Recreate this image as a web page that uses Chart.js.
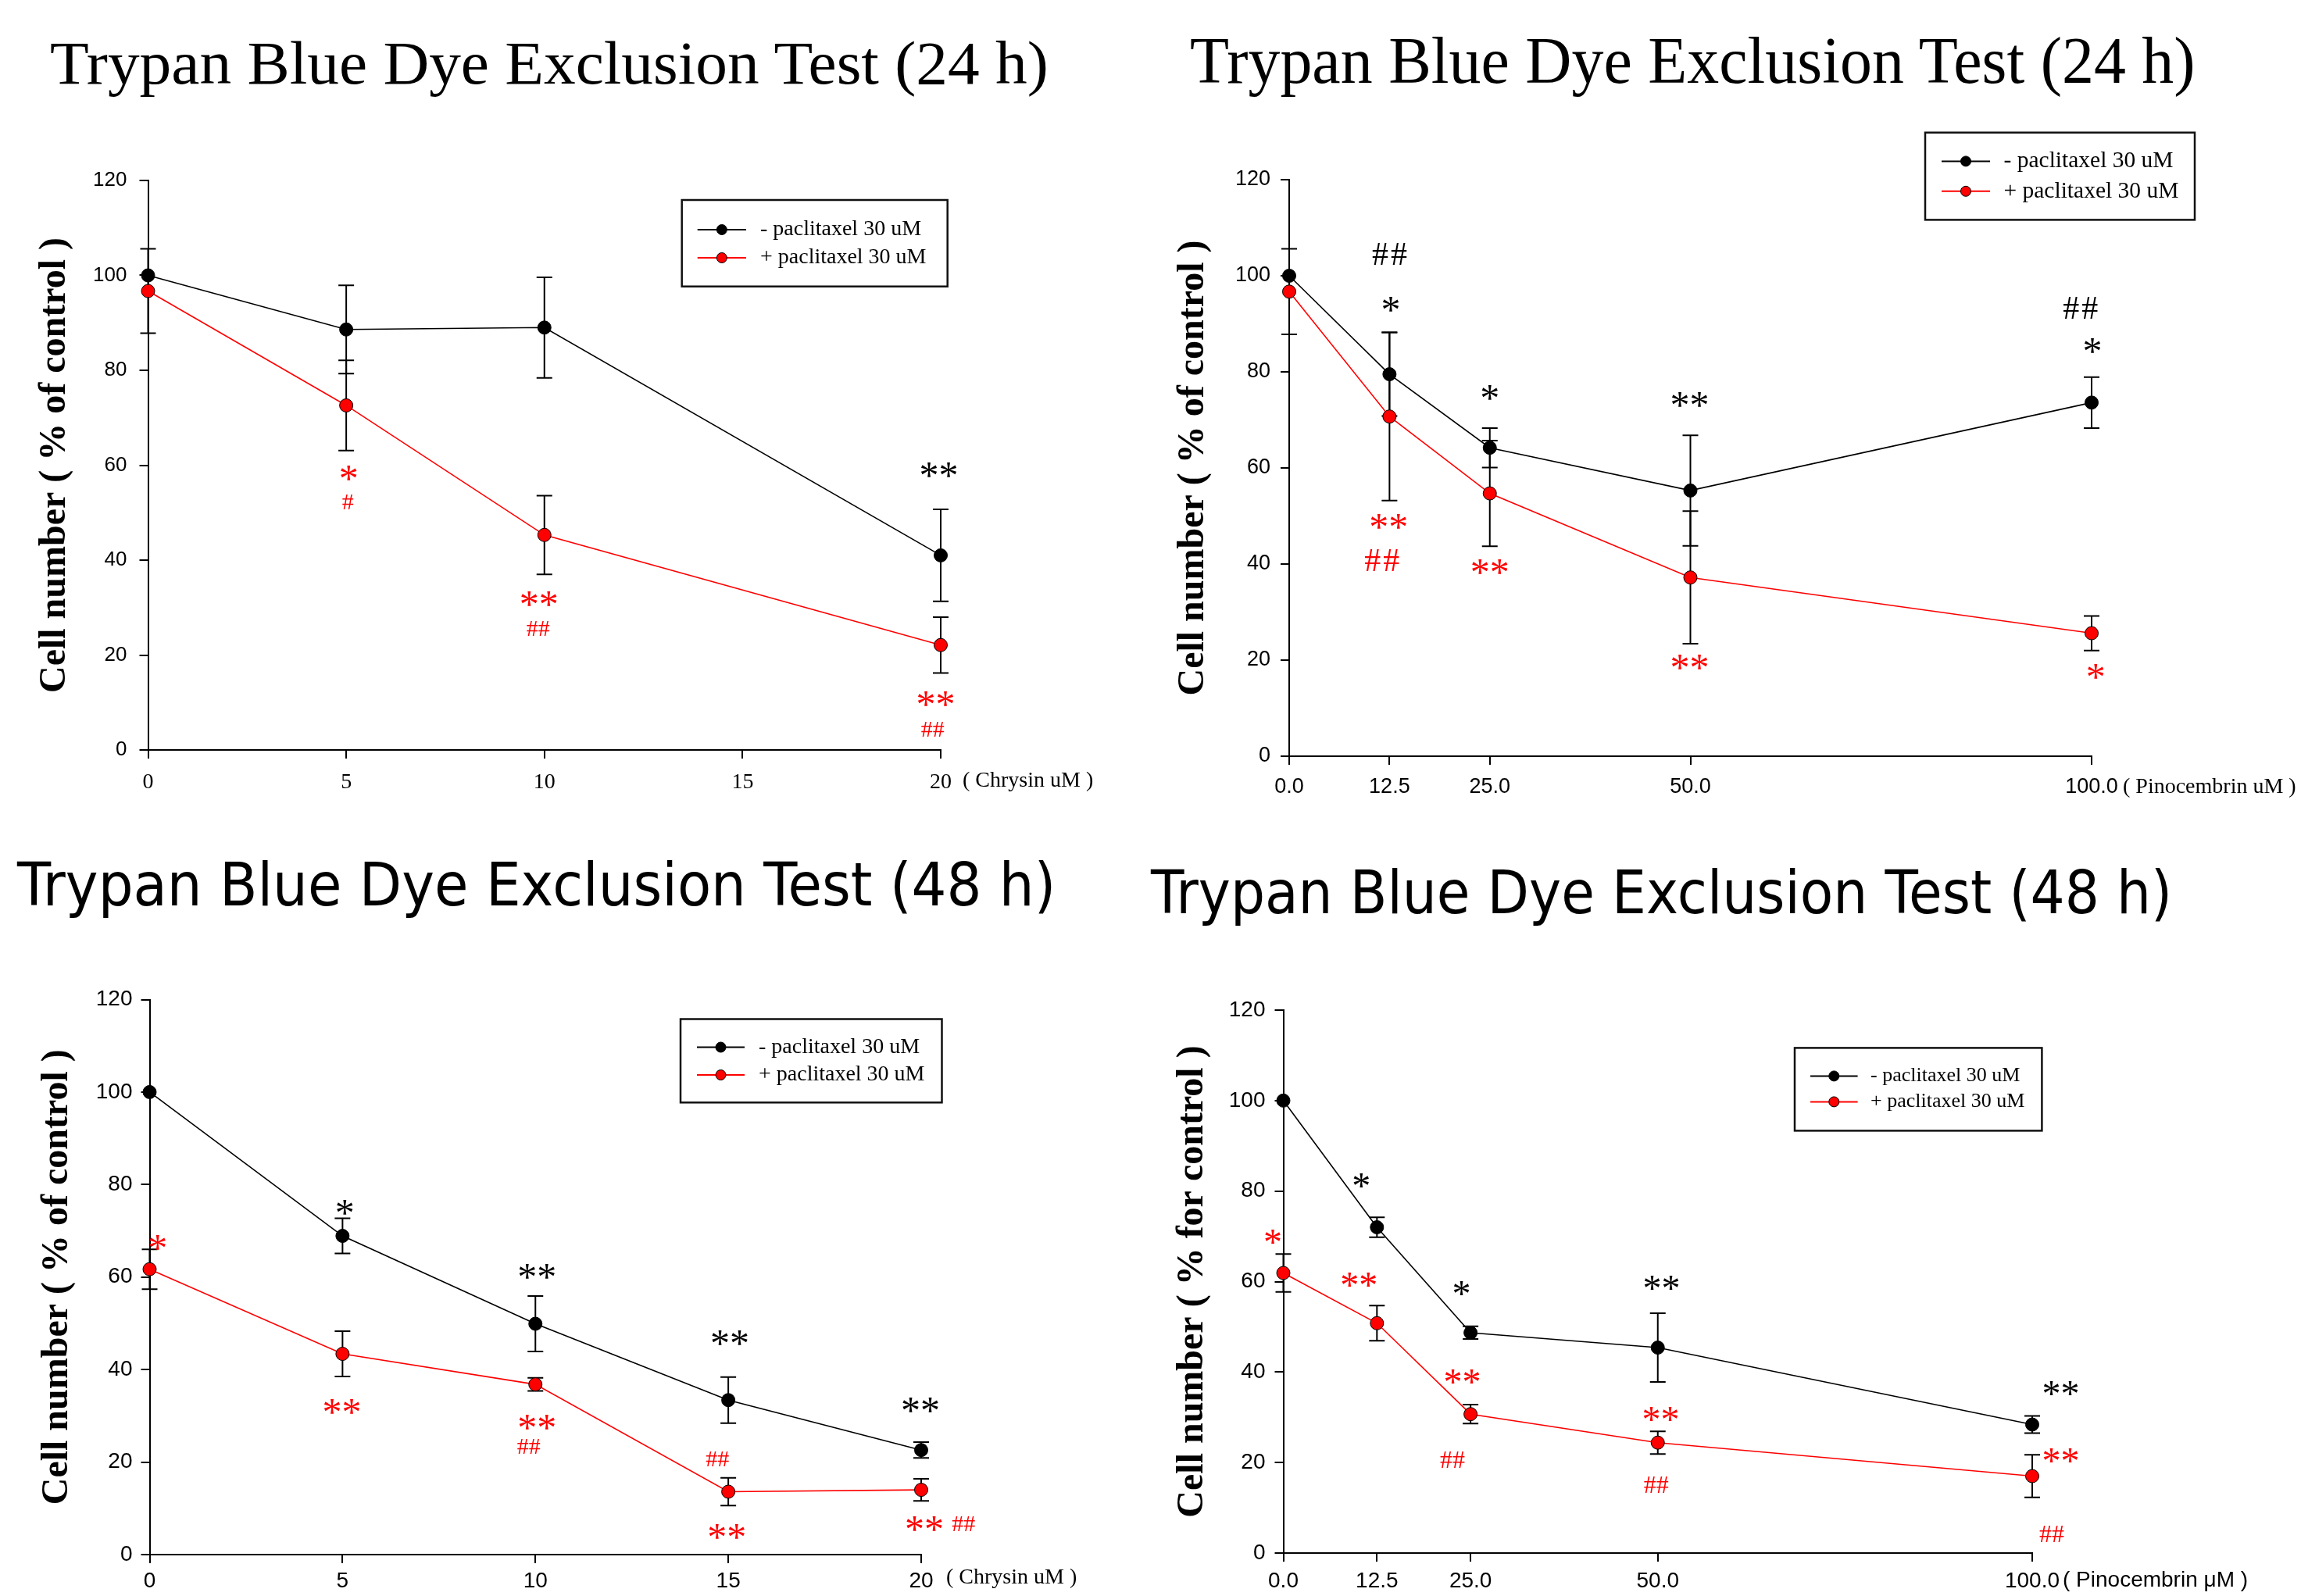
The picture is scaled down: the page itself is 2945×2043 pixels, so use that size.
<!DOCTYPE html>
<html>
<head>
<meta charset="utf-8">
<script src="https://cdn.jsdelivr.net/npm/chart.js@4.4.1/dist/chart.umd.min.js"></script>
<style>
  html, body { margin: 0; padding: 0; background: #fff; }
  body { width: 2945px; height: 2043px; position: relative; overflow: hidden; }
  canvas { position: absolute; }
  .title { position: absolute; white-space: nowrap; color: #000; line-height: 1; transform-origin: 0 0; }
</style>
</head>
<body>
<div class="title" id="t1">Trypan Blue Dye Exclusion Test (24 h)</div>
<div class="title" id="t2">Trypan Blue Dye Exclusion Test (24 h)</div>
<div class="title" id="t3">Trypan Blue Dye Exclusion Test (48 h)</div>
<div class="title" id="t4">Trypan Blue Dye Exclusion Test (48 h)</div>
<canvas id="c1"></canvas>
<canvas id="c2"></canvas>
<canvas id="c3"></canvas>
<canvas id="c4"></canvas>
<script>
// ---- doses / ticks ----
const chrysinDose24 = [0, 5, 10, 20];
const chrysinDose48 = [0, 5, 10, 15, 20];
const chrysinTicks = [0, 5, 10, 15, 20];
const pinoDose = [0, 12.5, 25, 50, 100];
const pinoTicks = [0, 12.5, 25, 50, 100];
const seriesLabels = ['- paclitaxel 30 uM', '+ paclitaxel 30 uM'];

// ---- chrysin 24 h (mean, SD) ----
const chr24Minus = [100, 88.6, 89.0, 41.0];
const chr24MinusSd = [0, 9.3, 10.6, 9.7];
const chr24Plus = [96.7, 72.6, 45.3, 22.1];
const chr24PlusSd = [8.9, 9.5, 8.3, 5.9];

// ---- pinocembrin 24 h ----
const pino24Minus = [100, 79.5, 64.2, 55.3, 73.6];
const pino24MinusSd = [0, 8.7, 4.1, 11.5, 5.3];
const pino24Plus = [96.7, 70.7, 54.7, 37.2, 25.6];
const pino24PlusSd = [8.9, 17.5, 11.0, 13.8, 3.6];

// ---- chrysin 48 h ----
const chr48Minus = [100, 68.9, 49.9, 33.4, 22.6];
const chr48MinusSd = [0, 3.8, 6.0, 5.0, 1.7];
const chr48Plus = [61.7, 43.4, 36.8, 13.6, 14.0];
const chr48PlusSd = [4.3, 4.9, 1.4, 3.0, 2.4];

// ---- pinocembrin 48 h ----
const pino48Minus = [100, 72.0, 48.7, 45.4, 28.4];
const pino48MinusSd = [0, 2.2, 1.4, 7.6, 1.9];
const pino48Plus = [61.9, 50.8, 30.7, 24.4, 17.0];
const pino48PlusSd = [4.2, 3.9, 2.1, 2.5, 4.7];

// ---- significance marks [dose, value, text] ----
const chr24MinusMarks = [[19.95, 59.0, '**']];
const chr24PlusMarks = [
  [5.06, 58.4, '*'], [5.04, 52.2, '#'],
  [9.86, 31.9, '**'], [9.84, 25.6, '##'],
  [19.87, 10.7, '**'], [19.8, 4.3, '##']
];
const pino24MinusMarks = [
  [12.66, 104.5, '##'], [12.66, 94.0, '*'],
  [25.0, 75.7, '*'], [49.9, 74.2, '**'],
  [98.75, 93.3, '##'], [100.1, 85.5, '*']
];
const pino24PlusMarks = [
  [12.4, 48.8, '**'], [11.7, 40.8, '##'],
  [25.0, 39.5, '**'], [49.9, 19.6, '**'], [100.5, 17.6, '*']
];
const chr48MinusMarks = [
  [5.06, 75.1, '*'], [10.04, 61.2, '**'], [15.04, 46.9, '**'], [19.98, 32.4, '**']
];
const chr48PlusMarks = [
  [0.21, 67.4, '*'], [4.98, 32.0, '**'],
  [10.04, 28.7, '**'], [9.83, 23.4, '##'],
  [14.72, 20.7, '##'], [14.96, 5.0, '**'],
  [20.08, 6.7, '**'], [21.1, 6.7, '##']
];
const pino48MinusMarks = [
  [10.4, 82.4, '*'], [23.8, 58.6, '*'], [50.5, 59.7, '**'], [103.8, 36.4, '**']
];
const pino48PlusMarks = [
  [-1.4, 70.0, '*'], [10.1, 60.4, '**'],
  [23.9, 39.0, '**'], [22.6, 20.7, '##'],
  [50.4, 30.8, '**'], [49.8, 15.1, '##'],
  [103.8, 21.5, '**'], [102.6, 4.3, '##']
];

const BLACK = '#000000';
const RED = '#ff0000';
const SERIF = "'Liberation Serif', 'Times New Roman', serif";
const SANS = "'Liberation Sans', Arial, sans-serif";

function hasFont(name) {
  const c = document.createElement('canvas').getContext('2d');
  c.font = '40px monospace';
  const a = c.measureText('abcdefghij0123456789').width;
  c.font = "40px '" + name + "', monospace";
  return c.measureText('abcdefghij0123456789').width !== a;
}
const NARROW_OK = hasFont('Liberation Sans Narrow');
const NARROW = NARROW_OK ? "'Liberation Sans Narrow', sans-serif" : SANS;
const narrowSize = s => NARROW_OK ? s : Math.round(s * 0.86);

// error bars, always black, under the markers
const errorBars = {
  id: 'errorBars',
  beforeDatasetsDraw(chart) {
    const ctx = chart.ctx;
    const y = chart.scales.y;
    ctx.save();
    ctx.strokeStyle = BLACK;
    ctx.lineWidth = 2;
    chart.data.datasets.forEach((ds, i) => {
      chart.getDatasetMeta(i).data.forEach((pt, j) => {
        const sd = ds.sd[j];
        if (!sd) return;
        const v = ds.data[j].y;
        const top = y.getPixelForValue(v + sd);
        const bot = y.getPixelForValue(v - sd);
        ctx.beginPath();
        ctx.moveTo(pt.x, top); ctx.lineTo(pt.x, bot);
        ctx.moveTo(pt.x - 10, top); ctx.lineTo(pt.x + 10, top);
        ctx.moveTo(pt.x - 10, bot); ctx.lineTo(pt.x + 10, bot);
        ctx.stroke();
      });
    });
    ctx.restore();
  }
};

// asterisks and hashes, centred on their ink box
const sigMarks = {
  id: 'sigMarks',
  afterDatasetsDraw(chart, args, opts) {
    const ctx = chart.ctx;
    const { x, y } = chart.scales;
    ctx.save();
    ctx.textAlign = 'center';
    ctx.textBaseline = 'alphabetic';
    chart.data.datasets.forEach(ds => {
      ctx.fillStyle = ds.borderColor;
      ds.marks.forEach(([mx, my, t]) => {
        const hash = t.indexOf('#') >= 0;
        ctx.font = hash ? opts.hashFont : opts.starFont;
        ctx.letterSpacing = hash ? opts.hashSpacing : '0px';
        const m = ctx.measureText(t);
        const px = x.getPixelForValue(mx);
        const py = y.getPixelForValue(my) + (m.actualBoundingBoxAscent - m.actualBoundingBoxDescent) / 2;
        ctx.fillText(t, px, py);
      });
    });
    ctx.restore();
  }
};

// rotated y title and the unit text after the last x tick
const axisText = {
  id: 'axisText',
  afterDraw(chart, args, opts) {
    const ctx = chart.ctx;
    const a = chart.chartArea;
    ctx.save();
    ctx.fillStyle = BLACK;
    ctx.translate(a.left - opts.yTitleDx, (a.top + a.bottom) / 2);
    ctx.rotate(-Math.PI / 2);
    ctx.font = 'bold 48px ' + SERIF;
    ctx.textAlign = 'center';
    ctx.textBaseline = 'middle';
    ctx.fillText(opts.yTitle, 0, 0);
    ctx.restore();

    ctx.save();
    ctx.fillStyle = BLACK;
    ctx.font = opts.unitFont;
    ctx.textAlign = 'left';
    ctx.textBaseline = 'middle';
    ctx.fillText(opts.unit, a.right + opts.unitGap, a.bottom + opts.unitDy);
    ctx.restore();
  }
};

// boxed legend with line + dot samples
const boxLegend = {
  id: 'boxLegend',
  afterDraw(chart, args, opts) {
    const ctx = chart.ctx;
    const [ox, oy] = opts.origin;
    const [x1, y1, x2, y2] = opts.rect;
    ctx.save();
    ctx.strokeStyle = '#111';
    ctx.lineWidth = 2.5;
    ctx.strokeRect(x1 - ox, y1 - oy, x2 - x1, y2 - y1);
    ctx.font = opts.font;
    ctx.textBaseline = 'middle';
    ctx.textAlign = 'left';
    chart.data.datasets.forEach((ds, i) => {
      const ry = opts.rows[i] - oy;
      ctx.strokeStyle = ds.borderColor;
      ctx.lineWidth = 2;
      ctx.beginPath();
      ctx.moveTo(opts.line[0] - ox, ry);
      ctx.lineTo(opts.line[1] - ox, ry);
      ctx.stroke();
      ctx.beginPath();
      ctx.arc((opts.line[0] + opts.line[1]) / 2 - ox, ry, 6.5, 0, Math.PI * 2);
      ctx.fillStyle = ds.pointBackgroundColor;
      ctx.fill();
      ctx.strokeStyle = BLACK;
      ctx.lineWidth = 1;
      ctx.stroke();
      ctx.fillStyle = BLACK;
      ctx.fillText(ds.label, opts.textX - ox, ry);
    });
    ctx.restore();
  }
};

const panels = [
  {
    id: 'c1', box: [0, 140, 1470, 920], area: [189.5, 231, 1204, 960], xH: 75,
    dose: chrysinDose24, ticks: chrysinTicks, digits: 0,
    minus: [chr24Minus, chr24MinusSd, chr24MinusMarks],
    plus: [chr24Plus, chr24PlusSd, chr24PlusMarks],
    xFont: { family: SERIF, size: 28 }, xPad: 14,
    yFont: { family: SANS, size: 26 }, yPad: 16,
    unit: '( Chrysin uM )', unitFont: '28px ' + SERIF, unitGap: 28, unitDy: 40,
    yTitle: 'Cell number ( % of control )', yTitleDx: 119,
    starFont: '50px ' + SERIF, hashFont: '30px ' + SERIF, hashSpacing: '0px',
    legend: { rect: [872.7, 256, 1212.7, 366.7], rows: [294, 330], line: [892.7, 955], textX: 973, font: '28px ' + SERIF }
  },
  {
    id: 'c2', box: [1470, 140, 1475, 920], area: [1650, 230, 2677, 968], xH: 75,
    dose: pinoDose, ticks: pinoTicks, digits: 1,
    minus: [pino24Minus, pino24MinusSd, pino24MinusMarks],
    plus: [pino24Plus, pino24PlusSd, pino24PlusMarks],
    xFont: { family: NARROW, size: narrowSize(31) }, xPad: 12,
    yFont: { family: NARROW, size: narrowSize(31) }, yPad: 13,
    unit: '( Pinocembrin uM )', unitFont: '28px ' + SERIF, unitGap: 40, unitDy: 40,
    yTitle: 'Cell number ( % of control )', yTitleDx: 122,
    starFont: '50px ' + SERIF, hashFont: '42px ' + SERIF, hashSpacing: '3px',
    legend: { rect: [2464, 169.7, 2809, 281.4], rows: [206.4, 244.8], line: [2485, 2547], textX: 2564.5, font: '29.5px ' + SERIF }
  },
  {
    id: 'c3', box: [0, 1200, 1470, 843], area: [191.5, 1279.5, 1179, 1990], xH: 53,
    dose: chrysinDose48, ticks: chrysinTicks, digits: 0,
    minus: [chr48Minus, chr48MinusSd, chr48MinusMarks],
    plus: [chr48Plus, chr48PlusSd, chr48PlusMarks],
    xFont: { family: NARROW, size: narrowSize(32) }, xPad: 6,
    yFont: { family: NARROW, size: narrowSize(32) }, yPad: 11,
    unit: '( Chrysin uM )', unitFont: '28px ' + SERIF, unitGap: 32, unitDy: 30,
    yTitle: 'Cell number ( % of control )', yTitleDx: 117.5,
    starFont: '50px ' + SERIF, hashFont: '30px ' + SERIF, hashSpacing: '0px',
    legend: { rect: [871, 1304.5, 1205.5, 1411.3], rows: [1340.5, 1376], line: [892, 953], textX: 971, font: '28px ' + SERIF }
  },
  {
    id: 'c4', box: [1470, 1200, 1475, 843], area: [1642.5, 1293, 2601, 1988], xH: 53,
    dose: pinoDose, ticks: pinoTicks, digits: 1,
    minus: [pino48Minus, pino48MinusSd, pino48MinusMarks],
    plus: [pino48Plus, pino48PlusSd, pino48PlusMarks],
    xFont: { family: NARROW, size: narrowSize(32) }, xPad: 8,
    yFont: { family: NARROW, size: narrowSize(32) }, yPad: 12,
    unit: '( Pinocembrin \u03bcM )', unitFont: narrowSize(33) + 'px ' + NARROW, unitGap: 39, unitDy: 35,
    yTitle: 'Cell number ( % for control )', yTitleDx: 116,
    starFont: '48px ' + SERIF, hashFont: '32px ' + SERIF, hashSpacing: '0px',
    legend: { rect: [2297, 1341.4, 2613.4, 1447.4], rows: [1377.4, 1410.4], line: [2317, 2377.6], textX: 2394, font: '26px ' + SERIF }
  }
];

const Y_W = 100;

function buildChart(p) {
  const canvas = document.getElementById(p.id);
  const [bx, by, bw, bh] = p.box;
  const [L, T, R, B] = p.area;
  canvas.width = bw;
  canvas.height = bh;
  canvas.style.left = bx + 'px';
  canvas.style.top = by + 'px';

  const series = [
    { label: seriesLabels[0], rows: p.minus, line: BLACK, fill: BLACK },
    { label: seriesLabels[1], rows: p.plus, line: RED, fill: RED }
  ];

  new Chart(canvas, {
    type: 'line',
    data: {
      datasets: series.map(s => ({
        label: s.label,
        data: p.dose.map((d, i) => ({ x: d, y: s.rows[0][i] })),
        sd: s.rows[1],
        marks: s.rows[2],
        borderColor: s.line,
        backgroundColor: s.fill,
        borderWidth: 1.6,
        pointRadius: 8.5,
        pointBackgroundColor: s.fill,
        pointBorderColor: BLACK,
        pointBorderWidth: 1,
        tension: 0,
        clip: false
      }))
    },
    options: {
      responsive: false,
      animation: false,
      devicePixelRatio: 1,
      layout: {
        autoPadding: false,
        padding: { left: L - bx - Y_W, top: T - by, right: bx + bw - R, bottom: by + bh - B - p.xH }
      },
      plugins: {
        legend: { display: false },
        tooltip: { enabled: false },
        sigMarks: { starFont: p.starFont, hashFont: p.hashFont, hashSpacing: p.hashSpacing },
        axisText: { yTitle: p.yTitle, yTitleDx: p.yTitleDx, unit: p.unit, unitFont: p.unitFont, unitGap: p.unitGap, unitDy: p.unitDy },
        boxLegend: Object.assign({ origin: [bx, by] }, p.legend)
      },
      scales: {
        x: {
          type: 'linear',
          min: p.ticks[0],
          max: p.ticks[p.ticks.length - 1],
          afterBuildTicks: sc => { sc.ticks = p.ticks.map(v => ({ value: v })); },
          afterFit: sc => { sc.height = p.xH; },
          grid: { display: true, drawOnChartArea: false, drawTicks: true, tickLength: 11, color: BLACK, lineWidth: 2 },
          border: { display: true, color: BLACK, width: 2 },
          ticks: {
            color: BLACK, font: p.xFont, padding: p.xPad, autoSkip: false, maxRotation: 0,
            callback: v => Number(v).toFixed(p.digits)
          }
        },
        y: {
          min: 0,
          max: 120,
          afterFit: sc => { sc.width = Y_W; },
          grid: { display: true, drawOnChartArea: false, drawTicks: true, tickLength: 11, color: BLACK, lineWidth: 2 },
          border: { display: true, color: BLACK, width: 2 },
          ticks: { stepSize: 20, color: BLACK, font: p.yFont, padding: p.yPad }
        }
      }
    },
    plugins: [errorBars, sigMarks, axisText, boxLegend]
  });
}

panels.forEach(buildChart);

// panel headings: size from cap height, squeezed to the measured width
function placeTitle(id, left, right, capTop, baseline, family) {
  const el = document.getElementById(id);
  const c = document.createElement('canvas').getContext('2d');
  c.font = '100px ' + family;
  const size = (baseline - capTop) / (c.measureText('T').actualBoundingBoxAscent / 100);
  c.font = size + 'px ' + family;
  const m = c.measureText(el.textContent);
  const ink = m.actualBoundingBoxLeft + m.actualBoundingBoxRight;
  const k = (right - left) / ink;
  const asc = m.fontBoundingBoxAscent, desc = m.fontBoundingBoxDescent;
  el.style.font = size + 'px ' + family;
  el.style.lineHeight = size + 'px';
  el.style.left = (left - m.actualBoundingBoxLeft * k) + 'px';
  el.style.top = (baseline - ((size - (asc + desc)) / 2 + asc)) + 'px';
  el.style.transform = 'scaleX(' + k + ')';
}

placeTitle('t1', 63, 1338, 57, 108, SERIF);
placeTitle('t2', 1522, 2806, 52, 107, SERIF);
placeTitle('t3', 23, 1348, 1104, 1160, "'DejaVu Sans', sans-serif");
placeTitle('t4', 1474, 2777, 1114, 1170, "'DejaVu Sans', sans-serif");
</script>
</body>
</html>
